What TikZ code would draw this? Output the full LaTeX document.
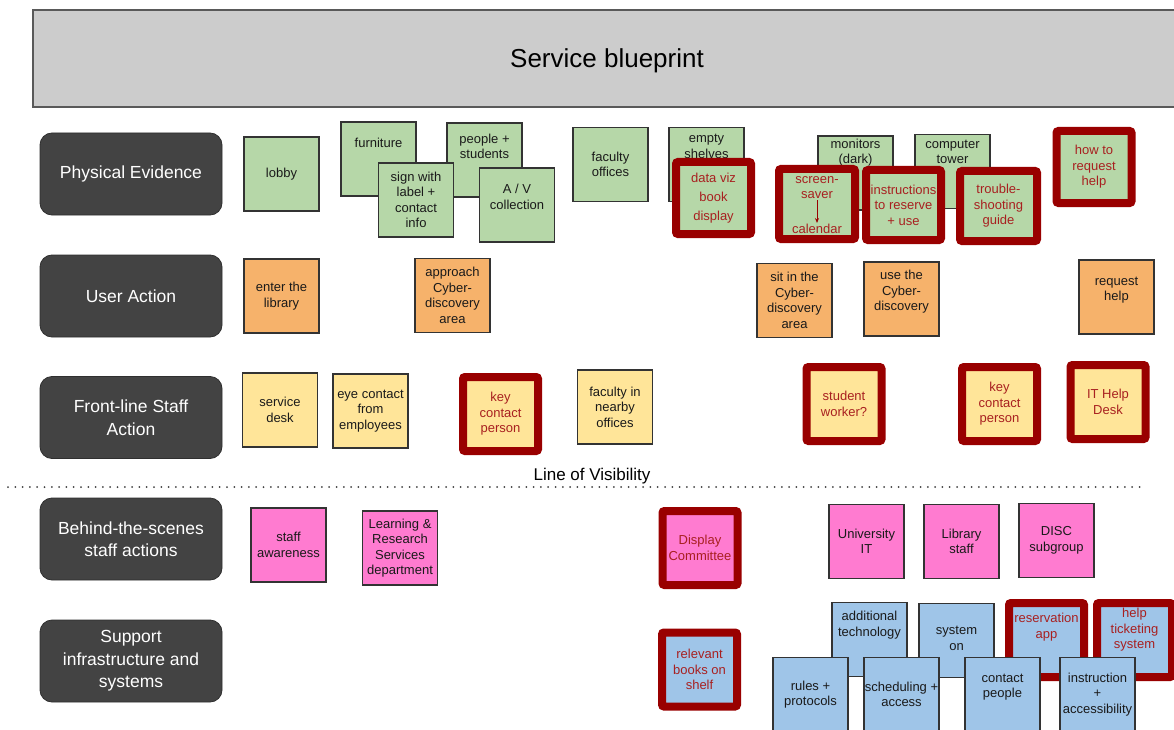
\documentclass[tikz,border=0pt]{standalone}
\usepackage{fontspec}
\setmainfont{Liberation Sans}
\usetikzlibrary{arrows.meta}
\definecolor{pegreen}{HTML}{B6D7A8}
\definecolor{uaorange}{HTML}{F6B26B}
\definecolor{fsyellow}{HTML}{FFE599}
\definecolor{bspink}{HTML}{FF7BD0}
\definecolor{siblue}{HTML}{9FC5E8}
\definecolor{hotred}{HTML}{990000}
\definecolor{hottext}{HTML}{A82020}
\definecolor{cardline}{HTML}{333333}
\definecolor{cardtext}{HTML}{1A1A1A}
\definecolor{lanegray}{HTML}{434343}
\definecolor{titlegray}{HTML}{CCCCCC}
\newcommand\cardfont{\fontsize{13}{15.5}\selectfont}
\newcommand\lanefont{\fontsize{17.5}{22.5}\selectfont}
\tikzset{
  card/.style={draw=cardline, line width=1.1pt, minimum width=75pt, minimum height=74pt,
    inner sep=0pt, align=center, font=\cardfont, text=cardtext},
  pe/.style={card, fill=pegreen},
  ua/.style={card, fill=uaorange},
  fs/.style={card, fill=fsyellow},
  bs/.style={card, fill=bspink},
  si/.style={card, fill=siblue},
  hot/.style={draw=hotred, line width=8pt, rounded corners=2pt, text=hottext,
    minimum width=75pt, minimum height=74pt},
  pehot/.style={hot, minimum height=72pt},
  cardtxt/.style={inner sep=0pt, align=center, font=\cardfont, text=cardtext},
  hottxt/.style={cardtxt, text=hottext},
  lane/.style={fill=lanegray, draw=lanegray!70!black, line width=0.8pt, rounded corners=12pt,
    minimum width=182pt, minimum height=82pt, text=white, align=center, font=\lanefont},
  titlebox/.style={fill=titlegray, draw=black!65, line width=1.2pt, minimum width=1147pt,
    minimum height=97pt},
  titletxt/.style={font=\fontsize{26}{30}\selectfont, text=black, inner sep=0pt},
  visline/.style={line width=2pt, draw=black!75, dash pattern=on 0pt off 7.3pt, line cap=round},
}
\begin{document}
\begin{tikzpicture}[x=1pt, y=-1pt]
\useasboundingbox[fill=white] (0,0) rectangle (1174,730);

% title
\node[titlebox] (title) at (606.5,58.5) {};
\node[titletxt] (title-t) at (607,61) {Service blueprint};

% lanes
\node[lane] (lanePE) at (131,174) {Physical Evidence};
\node[lane] (laneUA) at (131,296) {User Action};
\node[lane] (laneFS) at (131,417.5) {Front-line Staff\\Action};
\node[lane] (laneBS) at (131,539) {Behind-the-scenes\\staff actions};
\node[lane] (laneSI) at (131,661) {Support\\infrastructure and\\systems};

% Physical evidence
\node[pe] (lobby) at (281.5,174) {lobby};
\node[pe] (furn) at (378.5,159) {};
\node[cardtxt, anchor=north] (furn-t) at ([yshift=-16pt]furn.north) {furniture};
\node[pe] (people) at (484.5,160) {};
\node[cardtxt, anchor=north] (people-t) at ([yshift=-11pt]people.north) {people +\\students};
\node[pe] (sign) at (416,200) {sign with\\label +\\contact\\info};
\node[pe] (av) at (517,205) {};
\node[cardtxt] (av-t) at ([yshift=8pt]av.center) {A / V\\collection};
\node[pe] (facoff) at (610.5,164.5) {faculty\\offices};
\node[pe] (shelves) at (706.5,164.5) {};
\node[cardtxt, anchor=north] (shelves-t) at ([yshift=-7pt]shelves.north) {empty\\shelves};
\node[pe, pehot] (dataviz) at (713.5,198) {data viz\\[3.5pt]book\\[3.5pt]display};
\node[pe] (monitors) at (855.5,173) {};
\node[cardtxt, anchor=north] (monitors-t) at ([yshift=-3pt]monitors.north) {monitors\\(dark)};
\node[pe] (tower) at (952.5,171.5) {};
\node[cardtxt, anchor=north] (tower-t) at ([yshift=-5.5pt]tower.north) {computer\\tower};
\node[pe, pehot, minimum width=76pt, minimum height=70pt] (saver) at (817,204) {};
\node[hottxt] (saver-a) at (817,187.5) {screen-\\saver};
\node[hottxt] (saver-b) at (817,229) {calendar};
\draw[-{Stealth[length=5pt,width=4pt]}, draw=hotred, fill=hotred, line width=1pt,
  shorten <=1pt, shorten >=1pt] (saver-a) -- (saver-b);
\node[pe, pehot, minimum height=70pt] (instr) at (903.5,205) {instructions\\to reserve\\+ use};
\node[pe, pehot, minimum width=77pt, minimum height=70pt] (trouble) at (998.5,206) {trouble-\\shooting\\guide};
\node[pe, pehot] (howto) at (1094,167) {how to\\request\\help};

% User action
\node[ua] (enter) at (281.5,296) {enter the\\library};
\node[ua] (approach) at (452.5,295.5) {approach\\Cyber-\\discovery\\area};
\node[ua] (sit) at (794.5,300.5) {sit in the\\Cyber-\\discovery\\area};
\node[ua] (use) at (901.5,299) {};
\node[cardtxt] (use-t) at ([yshift=7pt]use.center) {use the\\Cyber-\\discovery};
\node[ua] (reqhelp) at (1116.5,297) {};
\node[cardtxt] (reqhelp-t) at ([yshift=7pt]reqhelp.center) {request\\help};

% Front-line staff action
\node[fs] (desk) at (280,410) {service\\desk};
\node[fs] (eye) at (370.5,411) {eye contact\\from\\employees};
\node[fs, hot] (key1) at (500.5,414) {key\\contact\\person};
\node[fs] (facnear) at (615,407) {faculty in\\nearby\\offices};
\node[fs, hot] (student) at (844,404) {student\\worker?};
\node[fs, hot] (key2) at (999.5,404) {key\\contact\\person};
\node[fs, hot] (ithelp) at (1108,402) {IT Help\\Desk};

% line of visibility
\node[font=\fontsize{17}{20}\selectfont, text=black] (lov) at (592,476) {Line of Visibility};
\coordinate (lovL) at (8,487);
\coordinate (lovR) at (1140,487);
\draw[visline] (lovL) -- (lovR);

% Behind-the-scenes
\node[bs] (aware) at (288.5,545) {staff\\awareness};
\node[bs] (lrs) at (400,548) {Learning \&\\Research\\Services\\department};
\node[bs, hot] (display) at (700,548) {Display\\Committee};
\node[bs] (uit) at (866.5,541.5) {University\\IT};
\node[bs] (libstaff) at (961.5,541.5) {Library\\staff};
\node[bs] (disc) at (1056.5,540.5) {DISC\\subgroup};

% Support infrastructure
\node[si, hot] (books) at (699.5,669.5) {relevant\\books on\\shelf};
\node[si] (addtech) at (869.5,639.5) {};
\node[cardtxt, anchor=north] (addtech-t) at ([yshift=-9pt]addtech.north) {additional\\technology};
\node[si] (syson) at (956.5,640.5) {};
\node[cardtxt, anchor=north] (syson-t) at ([yshift=-23pt]syson.north) {system\\on};
\node[si, hot] (resapp) at (1046.5,640) {};
\node[hottxt, anchor=north] (resapp-t) at ([yshift=-14pt]resapp.north) {reservation\\app};
\node[si, hot] (ticket) at (1134.5,640) {};
\node[hottxt, anchor=north] (ticket-t) at ([yshift=-9pt]ticket.north) {help\\ticketing\\system};
\node[si] (rules) at (810.5,694.5) {rules +\\protocols};
\node[si] (sched) at (901.5,694.5) {scheduling +\\access};
\node[si] (contact) at (1002.5,694.5) {};
\node[cardtxt] (contact-t) at ([yshift=7.5pt]contact.center) {contact\\people};
\node[si] (instacc) at (1097.5,694.5) {instruction\\+\\accessibility};
\end{tikzpicture}
\end{document}
